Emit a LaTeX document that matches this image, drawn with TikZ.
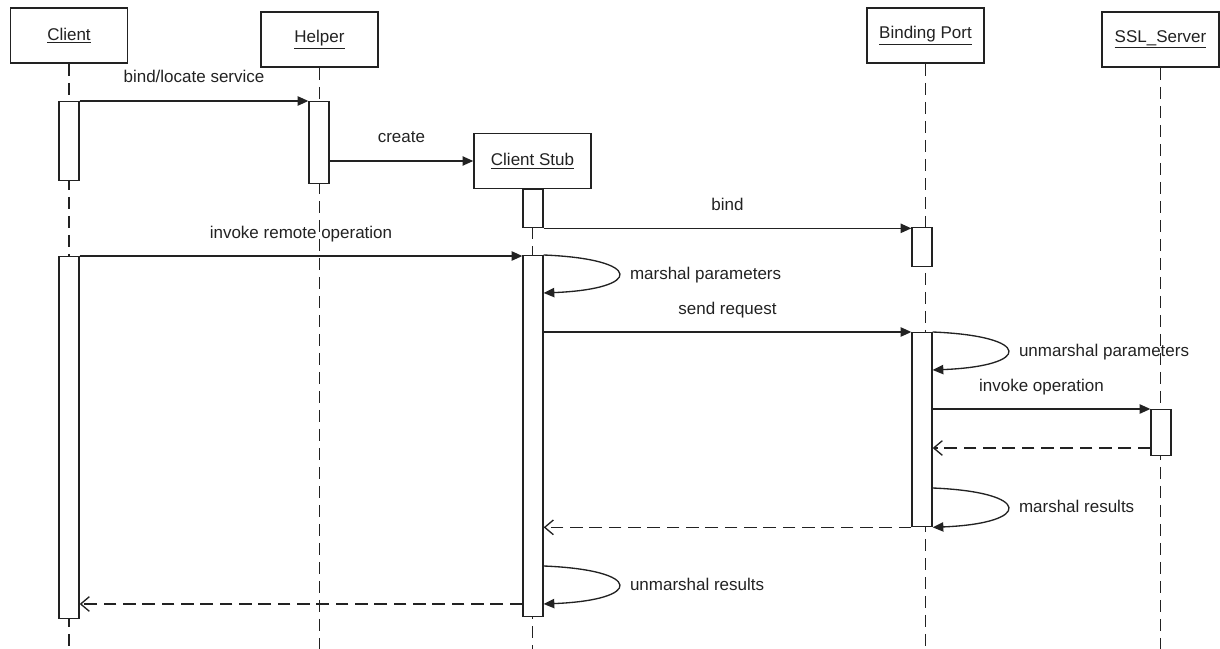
\documentclass[tikz,border=0pt]{standalone}
\usepackage{fontspec}
\setmainfont{Liberation Sans}
\usetikzlibrary{arrows.meta}
\definecolor{ink}{HTML}{222222}
% activation bar: name, x of centre, top y, bottom y (pixel grid)
\newcommand\activation[4]{%
  \node[actbar, minimum height={(#4-#3)*0.75pt}, anchor=north] (#1) at (#2,#3) {};}
\begin{document}
\begin{tikzpicture}[x=0.75pt,y=-0.75pt,
  font=\fontsize{12.75}{15}\selectfont,
  obj/.style={draw=ink, line width=1.2pt, fill=white, text=ink,
    minimum width=87.75pt, minimum height=41.25pt, inner sep=0pt},
  life/.style={draw=ink, line width=1pt, dash pattern=on 9pt off 5.25pt},
  actbar/.style={draw=ink, line width=1pt, fill=white,
    minimum width=15pt, inner sep=0pt},
  call/.style={draw=ink, line width=1pt, -{Triangle[length=8pt,width=7pt]}},
  ret/.style={draw=ink, line width=1pt, dash pattern=on 9.5pt off 5pt,
    -{Straight Barb[length=6.5pt,width=11pt]}},
  msglabel/.style={midway, anchor=base, yshift=13.5pt, inner sep=0pt, text=ink},
  looplabel/.style={pos=0.5, anchor=base west, xshift=8pt, yshift=-3.75pt,
    inner sep=0pt, text=ink},
  loop/.style={call,
    to path={.. controls +(100,4) and +(100,-4) .. (\tikztotarget) \tikztonodes}}]

\useasboundingbox (0,0) rectangle (1220,649);

% participants
\node[obj] (client) at (69,35.5)    {\underline{Client}};
\node[obj] (helper) at (319.5,39.5) {\underline{Helper}};
\node[obj] (stub)   at (532.5,161)  {\underline{Client Stub}};
\node[obj] (port)   at (925.5,35.5) {\underline{Binding Port}};
\node[obj] (ssl)    at (1160.5,39.5){\underline{SSL\_Server}};

% lifelines
\coordinate (bottom) at (0,649);
\foreach \p in {client,helper,stub,port,ssl}
  \draw[life] (\p.south) -- (\p.south |- bottom);

% activation bars
\activation{c1}{69}{101}{180}
\activation{h1}{319}{101}{183}
\activation{cs1}{533}{189}{227}
\activation{bp1}{922}{227}{266}
\activation{c2}{69}{256}{618}
\activation{cs2}{533}{255}{616}
\activation{bp2}{922}{332}{526}
\activation{ss1}{1161}{409}{455}

% message rows
\coordinate (y293) at (0,293);
\coordinate (y370) at (0,370);
\coordinate (y448) at (0,448);
\coordinate (y488) at (0,488);
\coordinate (y566) at (0,566);
\coordinate (y604) at (0,604);

% messages
\draw[call] (c1.north east) -- (c1.north east -| h1.west)
  node[msglabel] (m1) {bind/locate service};
\draw[call] (stub.west -| h1.east) -- (stub.west)
  node[msglabel] (m2) {create};
\draw[call] (cs1.south east) -- (cs1.south east -| bp1.west)
  node[msglabel] (m3) {bind};
\draw[call] (c2.north east) -- (c2.north east -| cs2.west)
  node[msglabel] (m4) {invoke remote operation};
\draw[loop] (cs2.north east) to node[looplabel] (l1) {marshal parameters} (cs2.east |- y293);
\draw[call] (bp2.north west -| cs2.east) -- (bp2.north west)
  node[msglabel] (m5) {send request};
\draw[loop] (bp2.north east) to node[looplabel] (l2) {unmarshal parameters} (bp2.east |- y370);
\draw[call] (ss1.north west -| bp2.east) -- (ss1.north west)
  node[msglabel] (m6) {invoke operation};
\draw[ret] (ss1.west |- y448) -- (bp2.east |- y448);
\draw[loop] (bp2.east |- y488) to node[looplabel] (l3) {marshal results} (bp2.south east);
\draw[ret] (bp2.south west) -- (bp2.south west -| cs2.east);
\draw[loop] (cs2.east |- y566) to node[looplabel] (l4) {unmarshal results} (cs2.east |- y604);
\draw[ret] (cs2.west |- y604) -- (c2.east |- y604);

\end{tikzpicture}
\end{document}
